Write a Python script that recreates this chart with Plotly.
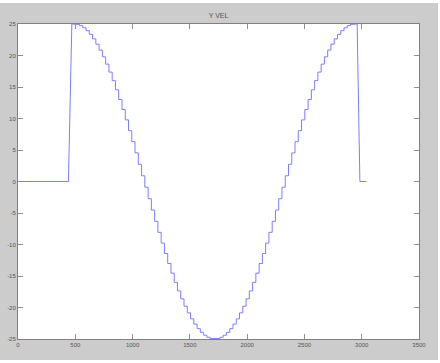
import plotly.graph_objects as go

# Staircase levels (Y VEL), one per hold step
step_levels = [25.00, 24.93, 24.73, 24.40, 23.94, 23.35, 22.64, 21.80, 20.85, 19.79,
               18.63, 17.37, 16.01, 14.55, 13.02, 11.43, 9.78, 8.07, 6.32, 4.54,
               2.73, 0.91, -0.91, -2.73, -4.54, -6.32, -8.07, -9.78, -11.43, -13.02,
               -14.55, -16.01, -17.37, -18.63, -19.79, -20.85, -21.80, -22.64, -23.35, -23.94,
               -24.40, -24.73, -24.93, -25.00, -24.93, -24.73, -24.40, -23.94, -23.35, -22.64,
               -21.80, -20.85, -19.79, -18.63, -17.37, -16.01, -14.55, -13.02, -11.43, -9.78,
               -8.07, -6.32, -4.54, -2.73, -0.91, 0.91, 2.73, 4.54, 6.32, 8.07,
               9.78, 11.43, 13.02, 14.55, 16.01, 17.37, 18.63, 19.79, 20.85, 21.80,
               22.64, 23.35, 23.94, 24.40, 24.73, 24.93, 25.00]
step_start = 480      # time of first step
step_width = 28.5     # width of each hold step
step_end = 2960       # end of last step

pre_x = [0, 440, 470]
pre_y = [0, 0, 25]
post_x = [2984, 3040]
post_y = [0, 0]

xticks = [0, 500, 1000, 1500, 2000, 2500, 3000, 3500]
yticks = [-25, -20, -15, -10, -5, 0, 5, 10, 15, 20, 25]

# build the staircase polyline
xs = list(pre_x)
ys = list(pre_y)
for k, v in enumerate(step_levels):
    x0 = step_start + k * step_width
    x1 = step_start + (k + 1) * step_width if k < len(step_levels) - 1 else step_end
    xs += [x0, x1]
    ys += [v, v]
xs += post_x
ys += post_y

fig = go.Figure()
fig.add_trace(go.Scatter(x=xs, y=ys, mode="lines",
                         line=dict(color="rgb(125,125,255)", width=1),
                         showlegend=False, hoverinfo="skip"))

axis_common = dict(showgrid=False, zeroline=False, showline=True, mirror="ticks",
                   linecolor="#808080", linewidth=1, ticks="inside", ticklen=5,
                   tickcolor="#909090", tickwidth=1, automargin=False,
                   tickfont=dict(family="Liberation Sans, Arial", size=6, color="#555555"))

fig.update_xaxes(range=[0, 3500], tickvals=xticks, ticktext=[str(t) for t in xticks],
                 **axis_common)
fig.update_yaxes(range=[-25, 25], tickvals=yticks, ticktext=[str(t) for t in yticks],
                 **axis_common)

# white outer border strips
border = [
    dict(x0=-0.06, x1=1.06, y0=1.0667, y1=1.09),    # top
    dict(x0=1.0474, x1=1.06, y0=-0.09, y1=1.09),   # right
    dict(x0=-0.06, x1=1.06, y0=-0.09, y1=-0.0667),  # bottom
]
for b in border:
    fig.add_shape(type="rect", xref="paper", yref="paper", line=dict(width=0),
                  fillcolor="white", layer="above", **b)

fig.update_layout(
    width=440, height=363,
    margin=dict(l=18, r=21, t=24, b=24, autoexpand=False),
    paper_bgcolor="#cccccc", plot_bgcolor="white",
    title=dict(text="Y VEL", x=0.4966, xanchor="center", y=1 - 16 / 363, yanchor="middle",
               font=dict(family="Liberation Sans, Arial", size=7, color="#555555")),
)

fig.write_html("out.html")
